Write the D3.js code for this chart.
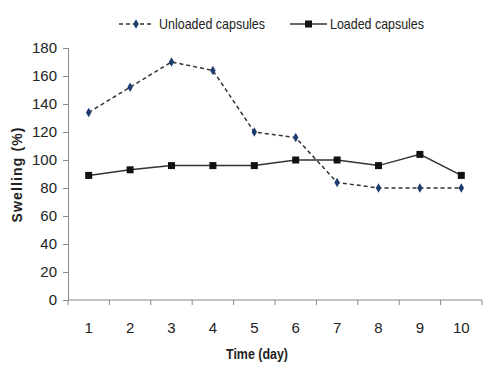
<!DOCTYPE html>
<meta charset="utf-8">
<script src="https://d3js.org/d3.v7.min.js"></script>
<style>
  body { margin: 0; background: #fff; }
  text { font-family: "Liberation Sans", Arial, sans-serif; fill: #222; }
</style>
<div id="my_dataviz"></div>
<script>
// data
let days = ["1", "2", "3", "4", "5", "6", "7", "8", "9", "10"];
let unloaded = [134, 152, 170, 164, 120, 116, 84, 80, 80, 80];
let loaded = [89, 93, 96, 96, 96, 100, 100, 96, 104, 89];
let yTicks = [0, 20, 40, 60, 80, 100, 120, 140, 160, 180];

let margin = {top: 48, right: 18, bottom: 74, left: 68},
    width = 500 - margin.left - margin.right,
    height = 374 - margin.top - margin.bottom;

let svg = d3.select("#my_dataviz")
    .append("svg")
    .attr("width", 500)
    .attr("height", 374)
    .append("g")
    .attr("transform", "translate(" + margin.left + "," + margin.top + ")");

let x = d3.scaleBand()
    .domain(days)
    .range([0, width]);

let y = d3.scaleLinear()
    .domain([0, 180])
    .range([height, 0]);

// x axis with ticks between categories
let xAxis = svg.append("g")
    .attr("transform", "translate(0," + height + ")");
xAxis.append("line")
    .attr("x1", 0).attr("x2", width)
    .attr("stroke", "#888");
xAxis.selectAll(".tk")
    .data(d3.range(days.length + 1))
    .enter().append("line")
    .attr("x1", function(i) { return i * x.bandwidth(); })
    .attr("x2", function(i) { return i * x.bandwidth(); })
    .attr("y1", 0).attr("y2", 5)
    .attr("stroke", "#888");
xAxis.selectAll(".lbl")
    .data(days)
    .enter().append("text")
    .attr("x", function(d) { return x(d) + x.bandwidth() / 2; })
    .attr("y", 33)
    .style("text-anchor", "middle")
    .style("font-size", "15px")
    .text(function(d) { return d; });

// y axis
let yAxis = svg.append("g")
    .call(d3.axisLeft(y).tickValues(yTicks).tickSize(5).tickPadding(6));
yAxis.select(".domain").attr("stroke", "#888");
yAxis.selectAll(".tick line").attr("stroke", "#888");
yAxis.selectAll(".tick text")
    .style("font-size", "15px")
    .style("font-family", "'Liberation Sans', sans-serif")
    .attr("fill", "#222");

// axis titles
svg.append("text")
    .attr("x", width / 2 - 18)
    .attr("y", height + 59)
    .style("text-anchor", "middle")
    .style("font-weight", "bold")
    .style("font-size", "14px")
    .attr("textLength", 62)
    .attr("lengthAdjust", "spacingAndGlyphs")
    .text("Time (day)");

svg.append("text")
    .attr("transform", "rotate(-90)")
    .attr("x", -(height / 2) - 1)
    .attr("y", -46)
    .style("text-anchor", "middle")
    .style("font-weight", "bold")
    .style("font-size", "14px")
    .attr("textLength", 95)
    .attr("lengthAdjust", "spacing")
    .text("Swelling (%)");

let cx = function(d, i) { return x(days[i]) + x.bandwidth() / 2; };
let diamond = d3.symbol().type(d3.symbolDiamond).size(26);

// unloaded capsules
svg.append("path")
    .datum(unloaded)
    .attr("fill", "none")
    .attr("stroke", "#333")
    .attr("stroke-width", 1.5)
    .attr("stroke-dasharray", "4,3")
    .attr("d", d3.line().x(cx).y(function(d) { return y(d); }));
svg.selectAll(".ud")
    .data(unloaded)
    .enter().append("path")
    .attr("d", diamond)
    .attr("transform", function(d, i) { return "translate(" + cx(d, i) + "," + y(d) + ")"; })
    .attr("fill", "#1f3c6e");

// loaded capsules
svg.append("path")
    .datum(loaded)
    .attr("fill", "none")
    .attr("stroke", "#333")
    .attr("stroke-width", 1.5)
    .attr("d", d3.line().x(cx).y(function(d) { return y(d); }));
svg.selectAll(".ls")
    .data(loaded)
    .enter().append("rect")
    .attr("x", function(d, i) { return cx(d, i) - 3.5; })
    .attr("y", function(d) { return y(d) - 3.5; })
    .attr("width", 7).attr("height", 7)
    .attr("fill", "#111");

// legend
let legend = d3.select("svg").append("g");
legend.append("line")
    .attr("x1", 119).attr("x2", 154).attr("y1", 24).attr("y2", 24)
    .attr("stroke", "#333").attr("stroke-width", 1.5)
    .attr("stroke-dasharray", "4,3");
legend.append("path")
    .attr("d", diamond)
    .attr("transform", "translate(136,24)")
    .attr("fill", "#1f3c6e");
legend.append("text")
    .attr("x", 159).attr("y", 29)
    .style("font-size", "15px")
    .attr("textLength", 106)
    .attr("lengthAdjust", "spacingAndGlyphs")
    .text("Unloaded capsules");
legend.append("line")
    .attr("x1", 290).attr("x2", 327).attr("y1", 24).attr("y2", 24)
    .attr("stroke", "#333").attr("stroke-width", 1.5);
legend.append("rect")
    .attr("x", 305).attr("y", 20.5).attr("width", 7).attr("height", 7)
    .attr("fill", "#111");
legend.append("text")
    .attr("x", 330).attr("y", 29)
    .style("font-size", "15px")
    .attr("textLength", 94)
    .attr("lengthAdjust", "spacingAndGlyphs")
    .text("Loaded capsules");
</script>
